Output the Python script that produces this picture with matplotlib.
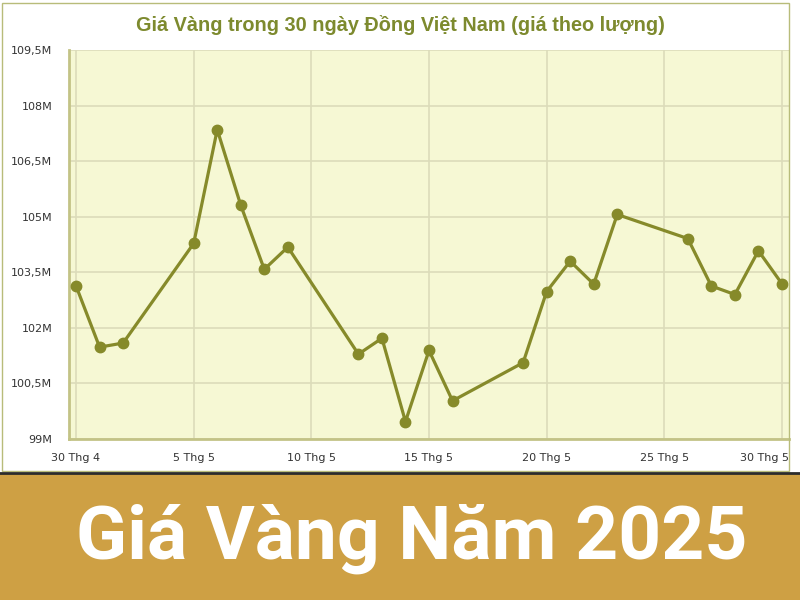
import matplotlib
matplotlib.use('Agg')
import matplotlib.pyplot as plt
import matplotlib.transforms as mtransforms
import pandas as pd
from matplotlib.patches import Rectangle
from matplotlib.lines import Line2D

#-- gold price over 30 days, million VND per luong --
dates = ['2025-04-30', '2025-05-01', '2025-05-02', '2025-05-05', '2025-05-06',
         '2025-05-07', '2025-05-08', '2025-05-09', '2025-05-12', '2025-05-13',
         '2025-05-14', '2025-05-15', '2025-05-16', '2025-05-19', '2025-05-20',
         '2025-05-21', '2025-05-22', '2025-05-23', '2025-05-26', '2025-05-27',
         '2025-05-28', '2025-05-29', '2025-05-30']
prices = [103.13, 101.48, 101.59, 104.28, 107.35,
          105.31, 103.58, 104.18, 101.29, 101.72,
          99.47, 101.39, 100.03, 101.06, 102.98,
          103.80, 103.18, 105.06, 104.41, 103.13,
          102.90, 104.08, 103.19]

tick_dates = ['2025-04-30', '2025-05-05', '2025-05-10', '2025-05-15',
              '2025-05-20', '2025-05-25', '2025-05-30']
tick_labels = ['30 Thg 4', '5 Thg 5', '10 Thg 5', '15 Thg 5',
               '20 Thg 5', '25 Thg 5', '30 Thg 5']
y_ticks = [99, 100.5, 102, 103.5, 105, 106.5, 108, 109.5]
y_labels = ['99M', '100,5M', '102M', '103,5M', '105M', '106,5M', '108M', '109,5M']

title = 'Giá Vàng trong 30 ngày Đồng Việt Nam (giá theo lượng)'
banner = 'Giá Vàng Năm 2025'

olive = '#868a2a'
grid_c = '#dcdcba'

x = pd.to_datetime(dates)
xt = pd.to_datetime(tick_dates)

fig = plt.figure(figsize=(8, 6), dpi=100)
fig.patch.set_facecolor('white')

# outer frame of the chart image
fig.add_artist(Rectangle((2/800, 1-471/600), 787/800, 468/600, transform=fig.transFigure,
                         fill=False, edgecolor='#b8bc7a', lw=1.0))

ax = fig.add_axes([69/800, 1-439/600, 720/800, 389/600])
ax.set_facecolor('#f6f8d4')

ax.plot(x, prices, color=olive, lw=2.3, marker='o', ms=7.5, zorder=3)

ax.set_ylim(99, 109.5)
day = pd.Timedelta(days=1)
ax.set_xlim(xt[0] - 0.3*day, xt[-1] + 0.3*day)

ax.set_yticks(y_ticks)
ax.set_yticklabels(y_labels)
ax.set_xticks(xt)
ax.set_xticklabels(tick_labels)

ax.grid(True, color=grid_c, lw=1.2, zorder=0)
ax.tick_params(axis='both', length=0, labelsize=8, colors='#333333')
ax.tick_params(axis='y', pad=12)
ax.tick_params(axis='x', pad=10)

# last date label sits flush with the right edge
last = ax.get_xticklabels()[-1]
last.set_horizontalalignment('right')
last.set_transform(last.get_transform() + mtransforms.ScaledTranslation(7/100, 0, fig.dpi_scale_trans))

for s in ['top', 'right']:
    ax.spines[s].set_visible(False)
for s in ['left', 'bottom']:
    ax.spines[s].set_color('#c3c386')
    ax.spines[s].set_linewidth(2)

fig.text(0.5, 1-25/600, title, ha='center', va='center', fontsize=14.3,
         fontweight='bold', color='#7d8a2e', family=['Liberation Sans', 'DejaVu Sans'])

# gold banner at the bottom
fig.add_artist(Rectangle((0, 0), 1, 127/600, transform=fig.transFigure,
                         facecolor='#cea044', edgecolor='none'))
fig.add_artist(Line2D([0, 1], [127/600, 127/600], transform=fig.transFigure,
                      color='#2b2b2b', lw=2))
fig.text(412/800, 1-539/600, banner, ha='center', va='center', fontsize=54,
         fontweight='bold', color='white', family=['Roboto', 'DejaVu Sans'])

fig.savefig('out.png', dpi=100)
